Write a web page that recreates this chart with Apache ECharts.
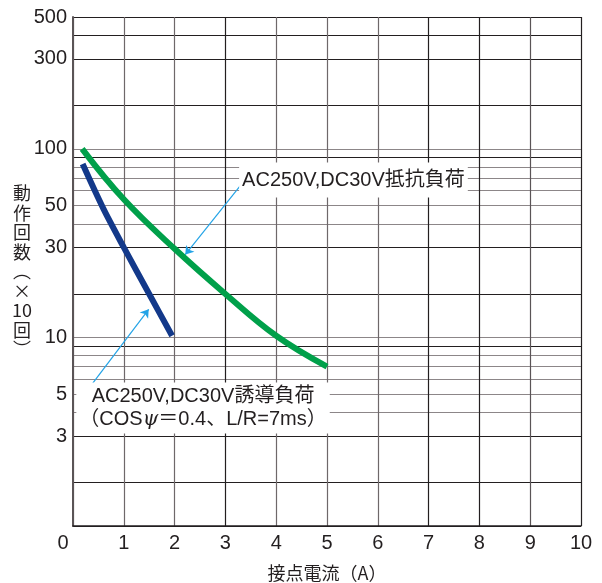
<!DOCTYPE html>
<html>
<head>
<meta charset="utf-8">
<script src="https://cdn.jsdelivr.net/npm/echarts@6/dist/echarts.min.js"></script>
<style>
    html, body { margin: 0; padding: 0; background: #fff; }
    #chart { width: 602px; height: 583px; }
</style>
</head>
<body>
<div id="chart"></div>
<script>
    // 接点電流(A) と 動作回数(×10回)
    var resistiveLoad = [[0.18, 100], [1, 54], [2, 29.5], [3, 17], [4, 10.2], [5, 7]]
    var inductiveLoad = [[0.19, 83], [0.6, 48], [1, 30], [1.5, 17], [1.95, 10.2]]

    var yLabelValues = [3, 5, 10, 30, 50, 100, 300, 500]
    // 原図の罫線位置 (2/20/200 の線は原図どおり少し下にずれている)
    var yGridValues = [1, 1.7, 3, 4, 5, 6, 7, 8, 9, 10, 17, 30, 40, 50, 60, 70, 80, 90, 100, 170, 300, 400, 500]

    var resistiveText = 'AC250V,DC30V抵抗負荷'
    var inductiveText = ['AC250V,DC30V誘導負荷', '（COS', 'ψ', '＝0.4、L/R=7ms）']

    // 注記の位置 (データ座標)
    var resistiveLabelAt = [3.27, 68.3]
    var resistiveArrow = [[3.33, 65.5], [2.21, 27.5]]
    var inductiveLabelAt = [2.56, 4.23]
    var inductiveArrow = [[0.39, 5.73], [1.49, 14.1]]

    var DARK = '#231f20', GRAY = '#8c8688', ARROW = '#23a3e6'
    var FONT = '"Liberation Sans", "Noto Sans CJK JP", sans-serif'
    var CJK_FONT = '"Noto Sans CJK JP", "Liberation Sans", sans-serif'

    var yGridColors = [DARK, DARK, DARK, GRAY, GRAY, GRAY, GRAY, GRAY, DARK, GRAY, DARK, DARK,
        GRAY, GRAY, GRAY, GRAY, GRAY, DARK, GRAY, DARK, DARK, DARK, DARK]
    var xGridColors = ['#5a5456', '#6e686a', '#6e686a', DARK, '#6e686a', '#6e686a', '#6e686a', DARK, DARK, '#5a5456', DARK]

    var chart = echarts.init(document.getElementById('chart'))
    chart.setOption({
        animation: false,
        grid: {left: 73, right: 21, top: 17, bottom: 57, containLabel: false, outerBoundsMode: 'none'},
        xAxis: {
            type: 'value',
            min: 0,
            max: 10,
            interval: 1,
            name: '接点電流（A）',
            nameLocation: 'middle',
            nameGap: 38,
            nameMoveOverlap: false,
            nameTextStyle: {fontFamily: CJK_FONT, fontSize: 18, color: DARK},
            axisLine: {show: true, lineStyle: {color: DARK, width: 1.5}},
            axisTick: {show: false},
            axisLabel: {
                margin: 7,
                fontFamily: FONT,
                fontSize: 20,
                color: DARK,
                formatter: function (v) {
                    return v === 0 ? '{z|0}' : String(v)
                },
                rich: {z: {fontFamily: FONT, fontSize: 20, color: DARK, padding: [0, 20, 0, 0]}}
            },
            splitLine: {show: true, lineStyle: {color: xGridColors, width: 1.2}}
        },
        yAxis: {
            type: 'log',
            logBase: 10,
            min: 1,
            max: 500,
            name: '動\n作\n回\n数\n︵\n×\n10\n回\n︶',
            nameLocation: 'middle',
            nameRotate: 0,
            nameGap: 51,
            nameMoveOverlap: false,
            nameTextStyle: {fontFamily: CJK_FONT, fontSize: 18, lineHeight: 19.5, color: DARK, align: 'center', verticalAlign: 'middle'},
            axisLine: {show: true, lineStyle: {color: '#5a5456', width: 2}},
            axisTick: {show: false, customValues: yGridValues},
            axisLabel: {
                customValues: yLabelValues,
                margin: 6,
                fontFamily: FONT,
                fontSize: 20,
                color: DARK
            },
            splitLine: {show: true, lineStyle: {color: yGridColors, width: 1.2}}
        },
        series: [
            {
                name: '抵抗負荷',
                type: 'line',
                data: resistiveLoad,
                smooth: 0.4,
                symbol: 'none',
                z: 5,
                lineStyle: {color: '#00a04a', width: 6},
                markLine: {
                    silent: true,
                    symbol: ['none', 'arrow'],
                    symbolSize: 8,
                    label: {show: false},
                    lineStyle: {color: ARROW, width: 1.2, type: 'solid'},
                    data: [[{coord: resistiveArrow[0]}, {coord: resistiveArrow[1]}]]
                },
                markPoint: {
                    silent: true,
                    symbolSize: 0,
                    data: [{coord: resistiveLabelAt}],
                    label: {
                        show: true,
                        position: 'right',
                        distance: 0,
                        formatter: resistiveText,
                        fontFamily: FONT,
                        fontSize: 20,
                        lineHeight: 20,
                        color: DARK,
                        backgroundColor: '#fff',
                        padding: [7, 3, 8, 3]
                    }
                }
            },
            {
                name: '誘導負荷',
                type: 'line',
                data: inductiveLoad,
                smooth: 0.3,
                symbol: 'none',
                z: 5,
                lineStyle: {color: '#13398a', width: 6},
                markLine: {
                    silent: true,
                    symbol: ['none', 'arrow'],
                    symbolSize: 8,
                    label: {show: false},
                    lineStyle: {color: ARROW, width: 1.2, type: 'solid'},
                    data: [[{coord: inductiveArrow[0]}, {coord: inductiveArrow[1]}]]
                },
                markPoint: {
                    silent: true,
                    symbolSize: 0,
                    data: [{coord: inductiveLabelAt}],
                    label: {
                        show: true,
                        position: 'inside',
                        align: 'center',
                        verticalAlign: 'middle',
                        formatter: '{a|' + inductiveText[0] + '}\n{a|' + inductiveText[1] + '}{i|' + inductiveText[2] + '}{a|' + inductiveText[3] + '}',
                        backgroundColor: '#fff',
                        padding: [3, 3, 2, 3],
                        rich: {
                            a: {fontFamily: FONT, fontSize: 20, lineHeight: 23, color: DARK},
                            i: {fontFamily: '"DejaVu Serif", serif', fontStyle: 'italic', fontSize: 20, lineHeight: 23, color: DARK}
                        }
                    }
                }
            }
        ]
    })
</script>
</body>
</html>
